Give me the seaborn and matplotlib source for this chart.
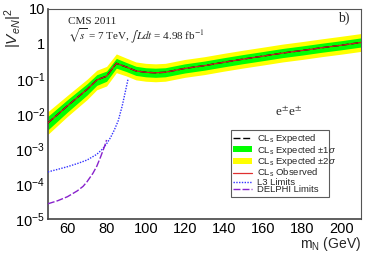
import numpy as np
import pandas as pd
import matplotlib
matplotlib.use("Agg")
import matplotlib.pyplot as plt
import seaborn as sns
from matplotlib.ticker import FixedLocator, MultipleLocator, FuncFormatter, LogLocator, NullFormatter
from matplotlib.lines import Line2D
from matplotlib.patches import Patch

# ---- data ----
mass = [50, 60, 70, 75, 80, 85, 90, 95, 100, 105, 110, 120, 130, 140, 150, 160, 170, 180, 190, 200, 210]
expected = [0.0055, 0.017, 0.05, 0.093, 0.12, 0.28, 0.22, 0.17, 0.155, 0.15, 0.155, 0.2, 0.24, 0.3, 0.37,
            0.45, 0.55, 0.65, 0.78, 0.92, 1.1]
observed = [0.0055, 0.017, 0.05, 0.093, 0.12, 0.28, 0.22, 0.17, 0.155, 0.15, 0.155, 0.2, 0.24, 0.3, 0.37,
            0.45, 0.55, 0.65, 0.78, 0.92, 1.1]
exp_lo1 = [0.0035, 0.0113, 0.0345, 0.0655, 0.0857, 0.203, 0.163, 0.126, 0.115, 0.111, 0.115, 0.148, 0.178,
           0.222, 0.274, 0.333, 0.407, 0.481, 0.578, 0.681, 0.815]
exp_hi1 = [0.0085, 0.0255, 0.0725, 0.132, 0.168, 0.386, 0.297, 0.23, 0.209, 0.203, 0.209, 0.27, 0.324,
           0.405, 0.5, 0.608, 0.743, 0.878, 1.05, 1.24, 1.49]
exp_lo2 = [0.0026, 0.0085, 0.0256, 0.049, 0.063, 0.151, 0.122, 0.094, 0.086, 0.083, 0.086, 0.111, 0.133,
           0.167, 0.206, 0.25, 0.306, 0.361, 0.433, 0.511, 0.611]
exp_hi2 = [0.0116, 0.034, 0.0975, 0.177, 0.228, 0.518, 0.396, 0.306, 0.279, 0.27, 0.279, 0.36, 0.432,
           0.54, 0.666, 0.81, 0.99, 1.17, 1.4, 1.66, 1.98]

l3_mass = [50, 55, 60, 65, 70, 75, 78, 80, 82, 84, 86, 88, 90, 91]
l3_limit = [2.2e-4, 2.6e-4, 3.1e-4, 3.8e-4, 4.8e-4, 7e-4, 1e-3, 1.4e-3, 2.1e-3, 3.5e-3, 6.5e-3, 0.017, 0.055, 0.1]

delphi_mass = [50, 55, 60, 65, 68, 70, 73, 75, 77, 79, 80]
delphi_limit = [2.7e-5, 3.3e-5, 4.3e-5, 6.3e-5, 8.5e-5, 1.15e-4, 2e-4, 3.2e-4, 6e-4, 1.2e-3, 1.8e-3]

xticks = [60, 80, 100, 120, 140, 160, 180, 200]

sns.set_style("white")
plt.rcParams['font.family'] = ['Liberation Sans', 'DejaVu Sans']
plt.rcParams['mathtext.fontset'] = 'custom'
plt.rcParams['mathtext.rm'] = 'Liberation Sans'
plt.rcParams['mathtext.it'] = 'Liberation Sans:italic'
plt.rcParams['mathtext.sf'] = 'Liberation Sans'

fig = plt.figure(figsize=(3.74, 2.56), dpi=100)
ax = fig.add_axes([0.128, 0.145, 0.837, 0.82])

ax.fill_between(mass, exp_lo2, exp_hi2, color='#ffff00', lw=0, zorder=1)
ax.fill_between(mass, exp_lo1, exp_hi1, color='#00ff00', lw=0, zorder=2)

df_exp = pd.DataFrame({'m': mass, 'v': expected})
df_obs = pd.DataFrame({'m': mass, 'v': observed})
sns.lineplot(data=df_exp, x='m', y='v', ax=ax, color='black', lw=1.0, linestyle=(0, (5, 2)), zorder=3)
sns.lineplot(data=df_obs, x='m', y='v', ax=ax, color='#cc2020', lw=0.9, zorder=4)
sns.lineplot(x=l3_mass, y=l3_limit, ax=ax, color='#3333ff', lw=1.0, linestyle=(0, (1, 1)), zorder=4)
sns.lineplot(x=delphi_mass, y=delphi_limit, ax=ax, color='#8822cc', lw=1.0, linestyle=(0, (5, 1.5)), zorder=4)

ax.set_yscale('log')
ax.set_xlim(50, 210)
ax.set_ylim(1e-5, 10)
ax.set_xlabel('')
ax.set_ylabel('')

ax.xaxis.set_major_locator(FixedLocator(xticks))
ax.xaxis.set_minor_locator(MultipleLocator(5))
ax.yaxis.set_major_locator(LogLocator(base=10, numticks=10))
ax.yaxis.set_minor_locator(LogLocator(base=10, subs=np.arange(2, 10), numticks=20))
ax.yaxis.set_minor_formatter(NullFormatter())

def yfmt(v, pos):
    e = int(round(np.log10(v)))
    if e == 0:
        return '1'
    if e == 1:
        return '10'
    return r'$10^{%d}$' % e

ax.yaxis.set_major_formatter(FuncFormatter(yfmt))
ax.tick_params(axis='both', which='both', direction='in', top=False, right=False,
               labelsize=10.5, colors='#444444', labelcolor='black')
ax.tick_params(axis='both', which='major', length=6, width=0.9, pad=2)
ax.tick_params(axis='both', which='minor', length=3, width=0.7)

for s in ['left', 'bottom']:
    ax.spines[s].set_color('#444444')
    ax.spines[s].set_linewidth(1.2)
for s in ['top', 'right']:
    ax.spines[s].set_color('#555555')
    ax.spines[s].set_linewidth(0.8)

serif = ['Liberation Serif', 'DejaVu Serif']
ax.text(0.064, 0.94, 'CMS 2011', transform=ax.transAxes, fontsize=8, family=serif, va='center')
ax.text(0.064, 0.872, r'$\sqrt{s}$ = 7 TeV, $\int$$Ldt$ = 4.98 fb$^{-1}$', transform=ax.transAxes,
        fontsize=8, family=serif, va='center', math_fontfamily='stix')
ax.text(0.965, 0.955, 'b)', transform=ax.transAxes, fontsize=10, family=serif, ha='right', va='center')
ax.text(0.77, 0.51, r'e$^{\pm}$e$^{\pm}$', transform=ax.transAxes, fontsize=9.5, family=serif,
        ha='center', va='center', math_fontfamily='stix')

fig.text(0.035, 0.89, r'$|V_{eN}|^2$', rotation=90, fontsize=11, ha='center', va='center')
fig.text(0.965, 0.045, r'm$_{\rm N}$ (GeV)', fontsize=10, ha='right', va='center')

handles = [
    Line2D([], [], color='black', lw=1.0, linestyle=(0, (5, 2))),
    Patch(facecolor='#00ff00', edgecolor='none'),
    Patch(facecolor='#ffff00', edgecolor='none'),
    Line2D([], [], color='#e03030', lw=0.9),
    Line2D([], [], color='#3333ff', lw=1.0, linestyle=(0, (1, 1))),
    Line2D([], [], color='#8822cc', lw=1.0, linestyle=(0, (5, 1.5))),
]
labels = [r'CL$_{\rm s}$ Expected', r'CL$_{\rm s}$ Expected $\pm$1$\sigma$', r'CL$_{\rm s}$ Expected $\pm$2$\sigma$',
          r'CL$_{\rm s}$ Observed', 'L3 Limits', 'DELPHI Limits']
leg = ax.legend(handles, labels, loc='lower left', bbox_to_anchor=(0.585, 0.105, 0.313, 0.34),
                mode='expand', fontsize=6.8, frameon=True, fancybox=False, handlelength=2.0,
                handleheight=0.6, handletextpad=0.5, labelspacing=-0.15, borderpad=0.25, borderaxespad=0)
leg.get_frame().set_edgecolor('#333333')
leg.get_frame().set_linewidth(0.8)

fig.savefig('out.png', dpi=100)
